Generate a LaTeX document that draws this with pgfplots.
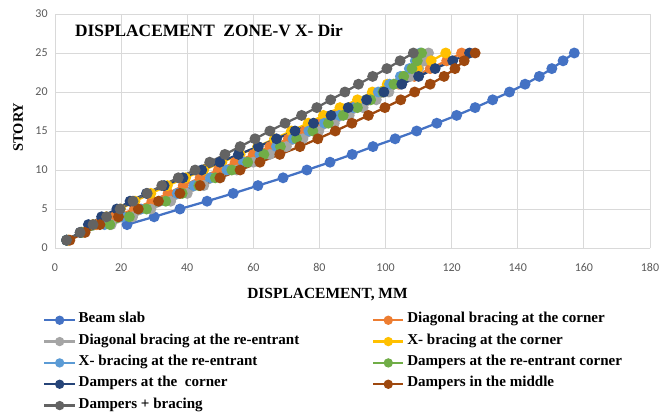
\documentclass[border=0pt]{standalone}
\usepackage{fontspec}
\setmainfont{Liberation Serif}
\newfontfamily\calibri{Carlito}
\usepackage{pgfplots}
\pgfplotsset{compat=1.18}
\definecolor{cBeam}{HTML}{4472C4}
\definecolor{cOrange}{HTML}{ED7D31}
\definecolor{cLGray}{HTML}{A5A5A5}
\definecolor{cYellow}{HTML}{FFC000}
\definecolor{cLBlue}{HTML}{5B9BD5}
\definecolor{cGreen}{HTML}{70AD47}
\definecolor{cDBlue}{HTML}{264478}
\definecolor{cBrown}{HTML}{9E480E}
\definecolor{cDGray}{HTML}{636363}
\definecolor{gridc}{HTML}{D9D9D9}
\definecolor{tickc}{HTML}{595959}
\begin{document}
\begin{tikzpicture}
\useasboundingbox (0,0) rectangle (494.25pt,309pt);
\begin{axis}[
  at={(41.25pt,123pt)}, anchor=south west,
  scale only axis, width=446.25pt, height=175.5pt,
  xmin=0, xmax=180, ymin=0, ymax=30,
  xtick={0,20,...,180}, ytick={0,5,...,30},
  grid=major, major grid style={gridc, line width=0.75pt},
  axis line style={draw=none},
  axis x line*=bottom, axis y line*=left,
  x axis line style={draw=gridc, line width=0.75pt},
  tick style={draw=none},
  /pgf/number format/assume math mode=true,
  ticklabel style={font=\calibri\fontsize{9}{10}\selectfont, text=tickc},
  xticklabel style={yshift=-8pt},
  yticklabel style={xshift=-2pt},
  xlabel={\fontsize{11.6}{12}\selectfont\bfseries DISPLACEMENT, MM},
  xlabel style={at={(axis description cs:0.458,-0.201)}, anchor=center},
  ylabel={\fontsize{10.8}{12}\selectfont\bfseries STORY},
  ylabel style={at={(axis description cs:-0.062,0.517)}, anchor=center, rotate=0},
  every axis plot/.append style={line width=1.7pt, mark=*, mark size=3.2pt, mark options={line width=0.75pt}},
  legend columns=2,
  legend cell align=left,
  legend style={at={(axis description cs:-0.02,-0.262)}, anchor=north west, draw=none, fill=none,
    font=\fontsize{11.3}{12}\selectfont\bfseries, inner sep=0pt, row sep=0pt,
    nodes={text height=8pt, text depth=4pt},
    /tikz/every odd column/.append style={column sep=0pt}},
  legend image code/.code={\draw[mark repeat=2,mark phase=2,mark size=2.6pt] plot coordinates {(0cm,0cm) (0.4cm,0cm) (0.8cm,0cm)};},
]
\addplot[color=cBeam, mark options={fill=cBeam}] coordinates {
(21.8,3)(30,4)(37.8,5)(46,6)(53.9,7)(61.4,8)(69,9)(76.2,10)(83.2,11)(89.9,12)(96.2,13)(102.9,14)(109.4,15)(115.5,16)(121.5,17)(127.1,18)(132.4,19)(137.5,20)(142.2,21)(146.5,22)(150.3,23)(153.7,24)(157.1,25)};
\addlegendentry{\makebox[218pt][l]{Beam slab}}
\addplot[color=cOrange, mark options={fill=cOrange}] coordinates {
(4,1)(8.3,2)(12.6,3)(18,4)(24,5)(29.3,6)(34.2,7)(38.8,8)(43.9,9)(49.4,10)(54.5,11)(60,12)(65,13)(70.6,14)(75.6,15)(80.5,16)(85.2,17)(89.9,18)(94.6,19)(99.3,20)(104,21)(108.7,22)(113.5,23)(118.5,24)(123,25)};
\addlegendentry{Diagonal bracing at the corner}
\addplot[color=cLGray, mark options={fill=cLGray}] coordinates {
(3.5,1)(8,2)(17,3)(23.5,4)(29,5)(35,6)(40,7)(45,8)(50,9)(55,10)(60,11)(65,12)(70,13)(75,14)(79.8,15)(84.5,16)(89,17)(93.2,18)(97.2,19)(101,20)(104.5,21)(107.5,22)(110,23)(111.8,24)(113,25)};
\addlegendentry{\makebox[218pt][l]{Diagonal bracing at the re-entrant}}
\addplot[color=cYellow, mark options={fill=cYellow}] coordinates {
(4,1)(8,2)(11.5,3)(15.5,4)(19.8,5)(24.2,6)(29,7)(34,8)(39.5,9)(45,10)(50.5,11)(56,12)(61.3,13)(66.4,14)(71.5,15)(76.6,16)(81.2,17)(86.2,18)(91.5,19)(96,20)(100.5,21)(105,22)(109.6,23)(113.8,24)(118.2,25)};
\addlegendentry{X- bracing at the corner}
\addplot[color=cLBlue, mark options={fill=cLBlue}] coordinates {
(3.5,1)(8,2)(15,3)(20.5,4)(26,5)(31.5,6)(37,7)(42,8)(47,9)(52,10)(57,11)(62,12)(67,13)(72,14)(76.8,15)(81.5,16)(86,17)(90.2,18)(94.2,19)(97.8,20)(101.2,21)(104.5,22)(107.2,23)(109,24)(110.5,25)};
\addlegendentry{\makebox[218pt][l]{X- bracing at the re-entrant}}
\addplot[color=cGreen, mark options={fill=cGreen}] coordinates {
(3.5,1)(8,2)(16.6,3)(22.5,4)(27.7,5)(33.5,6)(38.5,7)(43.5,8)(48.5,9)(53.5,10)(58.3,11)(63.2,12)(68.2,13)(73.1,14)(78,15)(82.7,16)(87.2,17)(91.5,18)(95.5,19)(99.2,20)(102.5,21)(105.5,22)(108,23)(109.6,24)(110.9,25)};
\addlegendentry{Dampers at the re-entrant corner}
\addplot[color=cDBlue, mark options={fill=cDBlue}] coordinates {
(3.5,1)(7.6,2)(10.1,3)(14.1,4)(18.7,5)(22.7,6)(27.7,7)(33,8)(38.7,9)(44.4,10)(49.9,11)(55.5,12)(61.5,13)(67,14)(72.6,15)(78.2,16)(83.5,17)(88.7,18)(94.3,19)(99.5,20)(104.9,21)(110,22)(115,23)(120.3,24)(125.4,25)};
\addlegendentry{\makebox[218pt][l]{Dampers at the \ corner}}
\addplot[color=cBrown, mark options={fill=cBrown}] coordinates {
(4.5,1)(9.1,2)(13.6,3)(19.2,4)(25.2,5)(31.3,6)(37.8,7)(43.9,8)(49.9,9)(56,10)(62,11)(68,12)(74.1,13)(79.5,14)(84.8,15)(89.8,16)(94.8,17)(99.8,18)(104.6,19)(108.8,20)(113.5,21)(117.7,22)(121,23)(123.8,24)(127.1,25)};
\addlegendentry{Dampers in the middle}
\addplot[color=cDGray, mark options={fill=cDGray}] coordinates {
(3.5,1)(7.6,2)(11.5,3)(15.6,4)(19.7,5)(23.6,6)(27.9,7)(32.3,8)(37.3,9)(42.4,10)(46.8,11)(51.4,12)(56,13)(60.5,14)(65,15)(69.6,16)(74.6,17)(79.2,18)(83.4,19)(87.7,20)(91.8,21)(96.1,22)(100.4,23)(104.4,24)(108.4,25)};
\addlegendentry{\makebox[218pt][l]{Dampers + bracing}}
\node[anchor=west, font=\fontsize{13}{15}\selectfont\bfseries] at (rel axis cs:0.026,0.93) {DISPLACEMENT \ ZONE-V X- Dir};
\end{axis}
\end{tikzpicture}
\end{document}
